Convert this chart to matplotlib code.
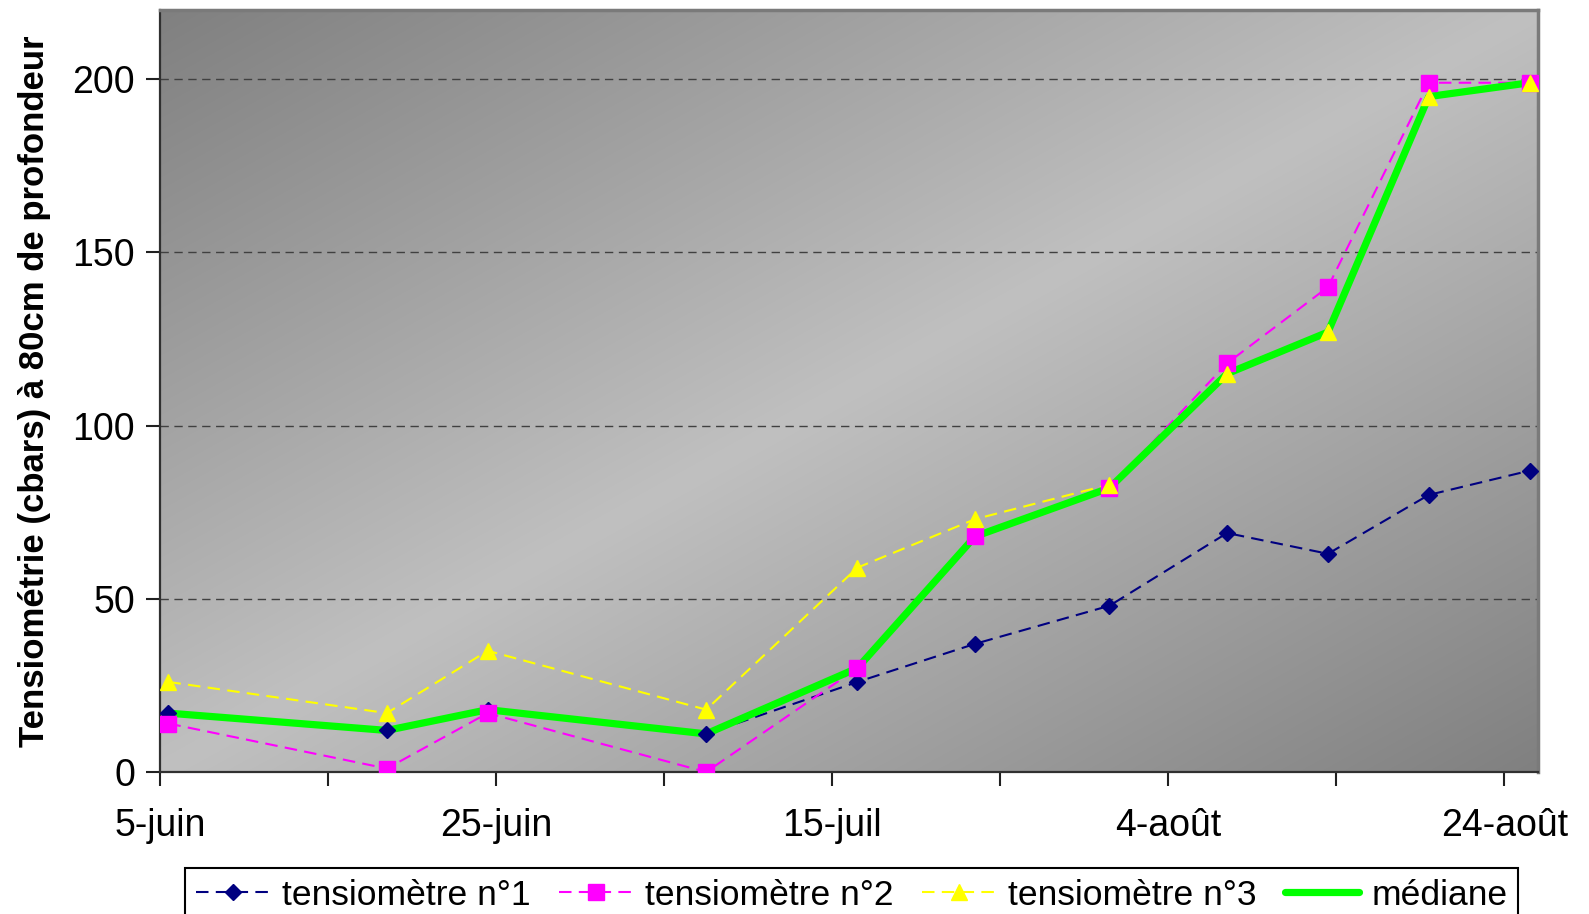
import numpy as np
import pandas as pd
import matplotlib
matplotlib.use("Agg")
import matplotlib.pyplot as plt
import matplotlib.dates as mdates
from matplotlib.lines import Line2D
from matplotlib.ticker import FixedLocator, FuncFormatter

plt.rcParams['font.family'] = ['Liberation Sans', 'DejaVu Sans']

# Measurement dates and readings (cbars at 80 cm depth)
dates = pd.to_datetime([
    "2006-06-05", "2006-06-18", "2006-06-24", "2006-07-07", "2006-07-16",
    "2006-07-23", "2006-07-31", "2006-08-07", "2006-08-13", "2006-08-19",
    "2006-08-25",
])
tens1 = [17, 12, 18, 11, 26, 37, 48, 69, 63, 80, 87]
tens2 = [14, 1, 17, 0, 30, 68, 82, 118, 140, 199, 199]
tens3 = [26, 17, 35, 18, 59, 73, 83, 115, 127, 195, 199]
mediane = [17, 12, 18, 11, 30, 68, 82, 115, 127, 195, 199]

series_labels = ["tensiomètre n°1", "tensiomètre n°2", "tensiomètre n°3", "médiane"]
month_names = {6: "juin", 7: "juil", 8: "août"}

fig = plt.figure(figsize=(15.89, 9.14), dpi=100)
ax = fig.add_axes([160 / 1589, 1 - 772 / 914, (1538 - 160) / 1589, (772 - 10) / 914])

start = pd.Timestamp("2006-06-05")
end = pd.Timestamp("2006-08-26")
x0, x1 = mdates.date2num(start), mdates.date2num(end)
ax.set_xlim(x0, x1)
ax.set_ylim(0, 220)

# Diagonal gradient fill: dark corners, light band along the anti-diagonal
n = 400
u = np.linspace(0, 1, n)[None, :]
v = np.linspace(0, 1, n)[:, None]   # 0 at top
t = (u + v) / 2
w = 1 - np.abs(2 * t - 1)
dark, light = 0x80 / 255, 0xC0 / 255
g = dark + (light - dark) * w
img = np.dstack([g, g, g])
ax.imshow(img, extent=(0, 1, 0, 1), transform=ax.transAxes, aspect='auto',
          zorder=0, interpolation='bilinear')

# Points sit in the middle of each day slot
xpos = mdates.date2num(dates) + 0.5

dash = (0, (6, 3.5))
styles = [
    (tens1, '#000080', 'D', 8.2),
    (tens2, '#FF00FF', 's', 11.5),
    (tens3, '#FFFF00', '^', 12),
]

# Dashed sensor lines below the median, markers above it
for vals, col, mk, ms in styles:
    ax.plot(xpos, vals, color=col, lw=1.5, ls=dash, zorder=2)
ax.plot(xpos, mediane, color='#00FF00', lw=5.2, solid_capstyle='round',
        solid_joinstyle='round', zorder=3)
for vals, col, mk, ms in styles:
    ax.plot(xpos, vals, ls='none', marker=mk, ms=ms, mec=col, mfc=col, zorder=4)

# Horizontal gridlines
ax.set_yticks([0, 50, 100, 150, 200])
ax.yaxis.grid(True, color='#404040', lw=1, ls=(0, (6, 4)))
for gl in ax.get_ygridlines():
    gl.set_zorder(1)

# Date ticks every 10 days, labels every 20 days
ticks = [x0 + 10 * k for k in range(9)]
ax.xaxis.set_major_locator(FixedLocator(ticks))


def fmt(x, pos):
    k = int(round((x - x0) / 10))
    if k % 2:
        return ""
    d = mdates.num2date(x)
    return f"{d.day}-{month_names[d.month]}"


ax.xaxis.set_major_formatter(FuncFormatter(fmt))
ax.tick_params(axis='x', direction='out', length=10, width=1.5, color='#202020',
               labelsize=27, pad=16)
ax.tick_params(axis='y', direction='out', length=10, width=1.5, color='#202020',
               labelsize=27, pad=8)

for side in ('left', 'bottom'):
    ax.spines[side].set_color('#303030')
    ax.spines[side].set_linewidth(1.6)
for side in ('top', 'right'):
    ax.spines[side].set_color('#7a7a7a')
    ax.spines[side].set_linewidth(2.5)

ax.set_ylabel("Tensiométrie (cbars) à 80cm de profondeur", fontsize=25,
              fontweight='bold')
ax.yaxis.set_label_coords(51 / 1589, 0.5 * (1 - 772 / 914 + 1 - 10 / 914),
                          transform=fig.transFigure)

handles = [Line2D([], [], color=col, lw=1.5, ls=dash, marker=mk, ms=ms,
                  mec=col, mfc=col) for _, col, mk, ms in styles]
handles.append(Line2D([], [], color='#00FF00', lw=5.2, solid_capstyle='round'))
leg = fig.legend(handles, series_labels, loc='upper left',
                 bbox_to_anchor=(185 / 1589, 1 - 868 / 914), ncol=4,
                 fontsize=25.5, frameon=True, fancybox=False, shadow=False,
                 handlelength=2.1, handletextpad=0.35, columnspacing=0.78,
                 borderpad=0.3, borderaxespad=0, numpoints=1)
leg.get_frame().set_edgecolor('#000000')
leg.get_frame().set_linewidth(1.5)
leg.get_frame().set_facecolor('white')
leg.get_frame().set_alpha(1)

fig.savefig("out.png", dpi=100)
